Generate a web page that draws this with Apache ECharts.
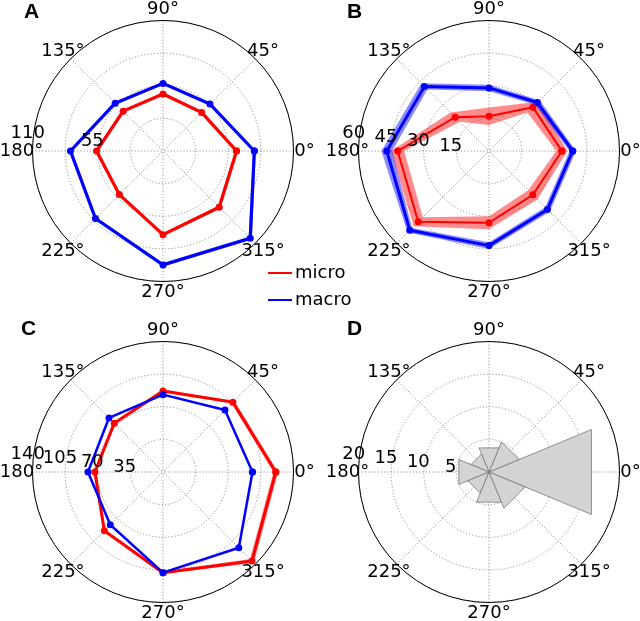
<!DOCTYPE html>
<html><head><meta charset="utf-8">
<script src="https://cdn.jsdelivr.net/npm/echarts@6/dist/echarts.min.js"></script>
<style>html,body{margin:0;padding:0;background:#fff}#c{width:640px;height:621px}</style>
</head><body><div id="c"></div>
<script>
// ---------- data ----------
const angles = [0, 45, 90, 135, 180, 225, 270, 315];
const angleTickLabels = ['0°', '45°', '90°', '135°', '180°', '225°', '270°', '315°'];
const panelNames = ['A', 'B', 'C', 'D'];
const rMax = [110, 60, 140, 20];
const radialLabelsA = [55, 110];
const radialLabelsB = [15, 30, 45, 60];
const radialLabelsC = [35, 70, 105, 140];
const radialLabelsD = [5, 10, 15, 20];
const legendNames = ['micro', 'macro'];

const microA = [62, 46, 48, 47.5, 56, 52, 70.5, 67];
const microErrA = [1.4, 1.3, 1.3, 1.3, 1.3, 1.3, 1.4, 1.4];
const macroA = [77, 56, 57, 57, 78, 80.5, 96, 104];
const macroErrA = [1.3, 1.3, 1.3, 1.3, 1.3, 1.3, 1.3, 1.9];

const microB = [33.5, 28.5, 16, 22, 42, 46, 33, 28.5];
const microErrB = [2.5, 3.5, 4, 3, 3, 3, 3, 3];
const macroB = [38.5, 31.5, 29, 42, 47, 51.5, 43.5, 38];
const macroErrB = [1.5, 1.5, 1.5, 2, 2.5, 1.5, 1.5, 1.5];

const microC = [121, 106, 87, 74, 73, 89, 108, 135];
const microErrC = [2.5, 2, 1.5, 1.5, 1.5, 1.5, 1.5, 3];
const macroC = [96, 94, 83, 82, 80.5, 80, 108, 115];
const macroErrC = [0.4, 0.4, 0.4, 0.4, 0.4, 0.4, 0.4, 0.4];

const countsD = [17, 5, 4, 3, 5, 3.5, 5, 6];

// ---------- layout / style ----------
const FONT = 'DejaVu Sans';
const FS = 18;
const centers = [[163, 151], [489, 151], [163, 472], [489, 472]];
const R = 130.5;
const titlePos = [[24, 2], [347, 2], [21, 319], [347, 319]];
const RED = '#ff0000', BLUE = '#0000ff';
const RED_BAND = 'rgba(255,0,0,0.45)', BLUE_BAND = 'rgba(0,0,255,0.45)';
const gridLine = { color: '#7a7a7a', type: [1.2, 2], width: 0.8 };
const RADIAL_LABEL_ANGLE = 172.5;
const RADIAL_LABEL_SHIFT = 6;
const ANGLE_LABEL_GAP = 11;

const radialLabels = [radialLabelsA, radialLabelsB, radialLabelsC, radialLabelsD];

const polar = [], angleAxis = [], radiusAxis = [], series = [];

for (let i = 0; i < 4; i++) {
  polar.push({ center: centers[i], radius: R });
  angleAxis.push({
    polarIndex: i, type: 'value', min: 0, max: 360, interval: 45,
    startAngle: 0, clockwise: false,
    axisLine: { show: true, lineStyle: { color: '#000', width: 1 } },
    axisTick: { show: false }, axisLabel: { show: false },
    splitLine: { show: true, lineStyle: gridLine }
  });
  radiusAxis.push({
    polarIndex: i, type: 'value', min: 0, max: rMax[i], interval: rMax[i] / 4,
    axisLine: { show: false }, axisTick: { show: false }, axisLabel: { show: false },
    splitLine: { show: true, lineStyle: gridLine }
  });
}

function closed(vals) {
  return vals.map((v, k) => [v, angles[k]]).concat([[vals[0], 360]]);
}
function bandSeries(pi, vals, errs, fill, name) {
  return {
    type: 'custom', coordinateSystem: 'polar', polarIndex: pi, name: name,
    data: [[0, 0]], silent: true, z: 2,
    renderItem: function (params, api) {
      const up = angles.map((a, k) => api.coord([vals[k] + errs[k], a]));
      const lo = angles.map((a, k) => api.coord([vals[k] - errs[k], a])).reverse();
      const f = p => p[0].toFixed(2) + ' ' + p[1].toFixed(2);
      const d = 'M' + up.map(f).join(' L') + ' Z M' + lo.map(f).join(' L') + ' Z';
      return { type: 'path', shape: { pathData: d }, style: { fill: fill } };
    }
  };
}
function lineSeries(pi, vals, color, width, name) {
  return {
    type: 'line', coordinateSystem: 'polar', polarIndex: pi, name: name,
    data: closed(vals), symbol: 'circle', symbolSize: 7, z: 3,
    lineStyle: { color: color, width: width }, itemStyle: { color: color },
    emphasis: { disabled: true }
  };
}

const panelData = [
  [microA, microErrA, macroA, macroErrA, 3.2, 3.2],
  [microB, microErrB, macroB, macroErrB, 2, 3],
  [microC, microErrC, macroC, macroErrC, 3, 2.5]
];
panelData.forEach((p, i) => {
  series.push(bandSeries(i, p[0], p[1], RED_BAND, 'micro band'));
  series.push(lineSeries(i, p[0], RED, p[4], legendNames[0]));
  series.push(bandSeries(i, p[2], p[3], BLUE_BAND, 'macro band'));
  series.push(lineSeries(i, p[2], BLUE, p[5], legendNames[1]));
});

series.push({
  type: 'custom', coordinateSystem: 'polar', polarIndex: 3, name: 'count', z: 2,
  data: countsD.map((v, k) => [v, angles[k]]),
  renderItem: function (params, api) {
    const v = api.value(0), a = api.value(1);
    const c = api.coord([0, a]);
    const p1 = api.coord([v, a - 22.5]);
    const p2 = api.coord([v, a + 22.5]);
    return { type: 'polygon', shape: { points: [c, p1, p2] },
      style: { fill: '#d3d3d3', stroke: '#777', lineWidth: 0.8 } };
  }
});

const option = {
  animation: false,
  backgroundColor: '#fff',
  title: panelNames.map((t, i) => ({
    text: t, left: titlePos[i][0], top: titlePos[i][1], padding: 0,
    textStyle: { fontFamily: 'Liberation Sans', fontWeight: 'bold', fontSize: 21, color: '#000' }
  })),
  legend: {
    data: legendNames, orient: 'vertical', left: 268, top: 264, padding: 0,
    itemWidth: 24, itemHeight: 2, icon: 'rect', itemGap: 9, selectedMode: false,
    textStyle: { fontFamily: FONT, fontSize: FS, color: '#000', padding: [0, 0, 0, -2] }
  },
  polar: polar, angleAxis: angleAxis, radiusAxis: radiusAxis, series: series
};

const chart = echarts.init(document.getElementById('c'), null, { renderer: 'canvas' });
chart.setOption(option);

// tick labels, placed through each polar coordinate system
function textAt(x, y, text) {
  return { type: 'text', x: x, y: y, z: 10,
    style: { text: text, fontFamily: FONT, fontSize: FS, fill: '#000',
      align: 'center', verticalAlign: 'middle' } };
}
const g = [];
for (let i = 0; i < 4; i++) {
  angles.forEach((a, k) => {
    const c = chart.convertToPixel({ polarIndex: i }, [0, a]);
    const p = chart.convertToPixel({ polarIndex: i }, [rMax[i], a]);
    const dx = p[0] - c[0], dy = p[1] - c[1];
    const L = Math.hypot(dx, dy) || 1;
    g.push(textAt(p[0] + dx / L * ANGLE_LABEL_GAP, p[1] + dy / L * ANGLE_LABEL_GAP, angleTickLabels[k]));
  });
  radialLabels[i].forEach(v => {
    const c = chart.convertToPixel({ polarIndex: i }, [0, RADIAL_LABEL_ANGLE]);
    const p = chart.convertToPixel({ polarIndex: i }, [v, RADIAL_LABEL_ANGLE]);
    const dx = p[0] - c[0], dy = p[1] - c[1];
    const L = Math.hypot(dx, dy) || 1;
    g.push(textAt(p[0] + dx / L * RADIAL_LABEL_SHIFT, p[1] + dy / L * RADIAL_LABEL_SHIFT, String(v)));
  });
}
chart.setOption({ graphic: g });
</script></body></html>
